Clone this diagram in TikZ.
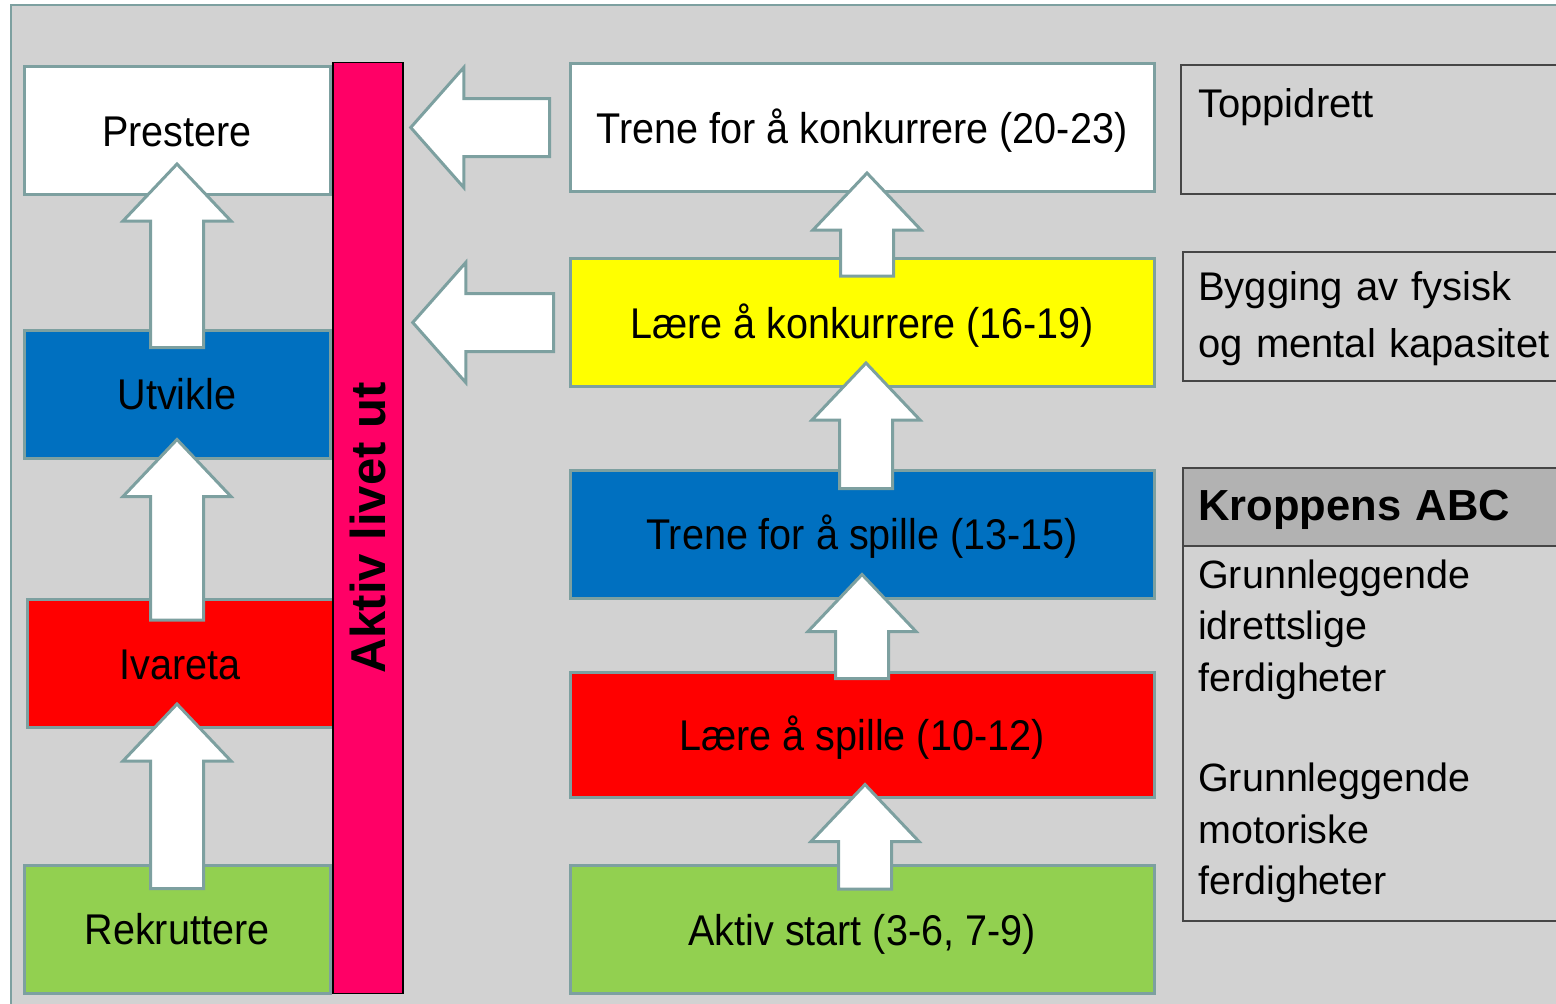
\documentclass[tikz,border=0pt]{standalone}
\usepackage{fontspec}
\setmainfont{Liberation Sans}
\newfontfamily\stagefont[FakeStretch=0.92]{Liberation Sans}
\usetikzlibrary{calc}

\definecolor{bggrey}{RGB}{210,210,210}
\definecolor{edgeteal}{RGB}{125,160,160}
\definecolor{barpink}{RGB}{255,0,102}
\definecolor{stageblue}{RGB}{0,112,192}
\definecolor{stagered}{RGB}{255,0,0}
\definecolor{stageyellow}{RGB}{255,255,0}
\definecolor{stagegreen}{RGB}{146,208,80}
\definecolor{headgrey}{RGB}{178,178,178}
\definecolor{sidegrey}{RGB}{70,70,70}

% block arrows: from (shaft end) to (tip)
\newcommand\blockup[2]{%
  \draw[blockarrow] let \p1=(#1), \p2=(#2) in
    (\x1-26.5pt,\y1) -- (\x1+26.5pt,\y1) -- (\x1+26.5pt,\y2-57pt)
    -- (\x1+54pt,\y2-57pt) -- (\x1,\y2) -- (\x1-54pt,\y2-57pt)
    -- (\x1-26.5pt,\y2-57pt) -- cycle;}
\newcommand\blockleft[2]{%
  \draw[blockarrow] let \p1=(#1), \p2=(#2) in
    (\x1,\y1+29pt) -- (\x1,\y1-29pt) -- (\x2+53pt,\y1-29pt)
    -- (\x2+53pt,\y1-60pt) -- (\x2,\y1) -- (\x2+53pt,\y1+60pt)
    -- (\x2+53pt,\y1+29pt) -- cycle;}

\begin{document}
\begin{tikzpicture}[x=1pt, y=-1pt,
    stage/.style={draw=edgeteal, line width=3pt, minimum width=584pt, minimum height=128pt,
      inner sep=0pt, text height=31pt, text depth=0pt, font=\stagefont\fontsize{43}{50}\selectfont},
    level/.style={stage, minimum width=306pt},
    sidebox/.style={draw=sidegrey, line width=1.5pt, anchor=north west, minimum width=400pt, inner sep=0pt},
    sidetext/.style={anchor=base west, inner sep=0pt, text width=420pt, align=left,
      font=\fontsize{40}{57}\selectfont},
    blockarrow/.style={draw=edgeteal, line width=3pt, fill=white}]

    % Background
    \useasboundingbox (0,0) rectangle (1556,1004);
    \fill[white] (0,0) rectangle (1556,1004);
    \draw[edgeteal, line width=2pt, fill=bggrey] (11,5) rectangle (1600,1030);

    % Left column
    \node[level, fill=white] (prest) at (177,130.5) {Prestere};
    \node[level, fill=stageblue] (utv) at (177,394) {Utvikle};
    \node[level, fill=stagered] (ivar) at (180,663.5) {Ivareta};
    \node[level, fill=stagegreen] (rekr) at (177,929) {Rekruttere};
    \node[draw=black, line width=1.5pt, fill=barpink, minimum width=70pt, minimum height=931pt,
      inner sep=0pt, font=\bfseries\fontsize{49}{50}\selectfont] (bar) at (368,528)
      {\rotatebox{90}{Aktiv livet ut}};

    % Middle column
    \node[stage, fill=white] (trene20) at (862,127.5) {Trene for å konkurrere (20-23)};
    \node[stage, fill=stageyellow] (laere16) at (862,322.5) {Lære å konkurrere (16-19)};
    \node[stage, fill=stageblue] (trene13) at (862,534) {Trene for å spille (13-15)};
    \node[stage, fill=stagered, minimum height=125pt] (laere10) at (862,734.5) {Lære å spille (10-12)};
    \node[stage, fill=stagegreen] (aktiv) at (862,929.5) {Aktiv start (3-6, 7-9)};

    % Right column
    \node[sidebox, minimum height=129pt] (topp) at (1180,64) {};
    \node[sidebox, minimum height=129pt] (bygg) at (1182,251) {};
    \node[sidebox, minimum height=78pt, fill=headgrey] (abchead) at (1182,467) {};
    \node[sidebox, minimum height=375pt] (abcbody) at (1182,545) {};
    \node[sidetext] (topptext) at (1198,117) {Toppidrett};
    \node[sidetext] (byggtext) at (1198,300) {Bygging av fysisk\\og mental kapasitet};
    \node[sidetext, font=\bfseries\fontsize{43.5}{50}\selectfont] (abctitle) at (1198,520) {Kroppens ABC};
    \node[sidetext, font=\fontsize{39.5}{51.5}\selectfont] (abctext) at (1198,588)
      {Grunnleggende\\idrettslige\\ferdigheter\\[49pt]Grunnleggende\\motoriske\\ferdigheter};

    % Arrows up
    \blockup{$(rekr.north)+(0,25)$}{$(ivar.south)+(0,-25)$}
    \blockup{$(ivar.north)+(-3,22)$}{$(utv.south)+(0,-20)$}
    \blockup{$(utv.north)+(0,19)$}{$(prest.south)+(0,-32)$}
    \blockup{$(aktiv.north)+(3,25)$}{$(laere10.south)+(0,-14)$}
    \blockup{$(laere10.north)+(0,8)$}{$(trene13.south)+(0,-25)$}
    \blockup{$(trene13.north)+(4,20)$}{$(laere16.south)+(0,-25)$}
    \blockup{$(laere16.north)+(5,19)$}{$(trene20.south)+(0,-20)$}

    % Arrows to the bar
    \blockleft{$(trene20.west)+(-19,0)$}{$(trene20.west -| bar.east)+(7,0)$}
    \blockleft{$(laere16.west)+(-15,0)$}{$(laere16.west -| bar.east)+(9,0)$}
\end{tikzpicture}
\end{document}
